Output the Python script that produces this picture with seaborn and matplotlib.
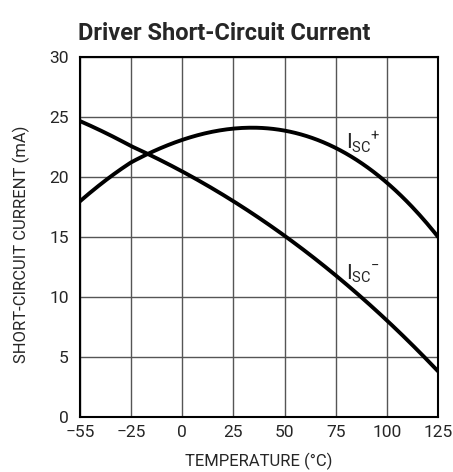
import numpy as np
import pandas as pd
import seaborn as sns
import matplotlib.pyplot as plt

### Data
temp = [-55, -25, -16, 0, 25, 32, 50, 75, 100, 125]
isc_plus = [18.0, 21.2, 21.9, 23.2, 24.0, 24.15, 23.9, 22.3, 19.6, 15.0]
isc_minus = [24.6, 22.7, 21.9, 20.4, 17.9, 17.2, 15.0, 12.0, 8.0, 3.8]
xticks = [-55, -25, 0, 25, 50, 75, 100, 125]
xtick_labels = ['\u221255', '\u221225', '0', '25', '50', '75', '100', '125']
yticks = [0, 5, 10, 15, 20, 25, 30]

# smooth the curves a little through the read points
t_fine = np.linspace(-55, 125, 200)
plus_fine = np.polyval(np.polyfit(temp, isc_plus, 3), t_fine)
minus_fine = np.polyval(np.polyfit(temp, isc_minus, 3), t_fine)
df = pd.DataFrame({'temp': np.concatenate([t_fine, t_fine]),
                   'current': np.concatenate([plus_fine, minus_fine]),
                   'series': ['plus'] * len(t_fine) + ['minus'] * len(t_fine)})

sns.set_style("white")
plt.rcParams['font.family'] = ['Roboto', 'DejaVu Sans']

fig = plt.figure(figsize=(4.53, 4.72), dpi=100)
ax = fig.add_axes([80 / 453, 55 / 472, 358 / 453, 360 / 472])

# the -55 tick sits one equal step left of -25 on the original axis
def fwd(x):
    return np.interp(x, [-55, -25, 125], [-50, -25, 125])

def inv(x):
    return np.interp(x, [-50, -25, 125], [-55, -25, 125])

ax.set_xscale('function', functions=(fwd, inv))

sns.lineplot(data=df, x='temp', y='current', units='series', estimator=None,
             color='black', linewidth=2.8, ax=ax)

ax.set_xlim(-55, 125)
ax.set_ylim(0, 30)
ax.set_xticks(xticks)
ax.set_xticklabels(xtick_labels)
ax.set_yticks(yticks)
ax.grid(True, color='#555555', linewidth=1)
for s in ax.spines.values():
    s.set_color('black')
    s.set_linewidth(1.5)
ax.tick_params(length=0, labelsize=12.5, pad=6)
ax.tick_params(axis='y', pad=8)

ax.set_xlabel('TEMPERATURE (\u00b0C)', fontsize=12)
ax.xaxis.set_label_coords(0.5, -0.1)
ax.set_ylabel('SHORT-CIRCUIT CURRENT (mA)', fontsize=12)
ax.yaxis.set_label_coords(-0.14, 0.48)
ax.set_title('Driver Short-Circuit Current', fontsize=17, fontweight='bold',
             loc='left', x=-0.005, pad=12)

ax.text(80, 22.3, r'I$_{\mathregular{SC}}$$^{\mathregular{+}}$', fontsize=15)
ax.text(80, 11.5, r'I$_{\mathregular{SC}}$$^{\mathregular{-}}$', fontsize=15)

plt.savefig('out.png', dpi=100)
